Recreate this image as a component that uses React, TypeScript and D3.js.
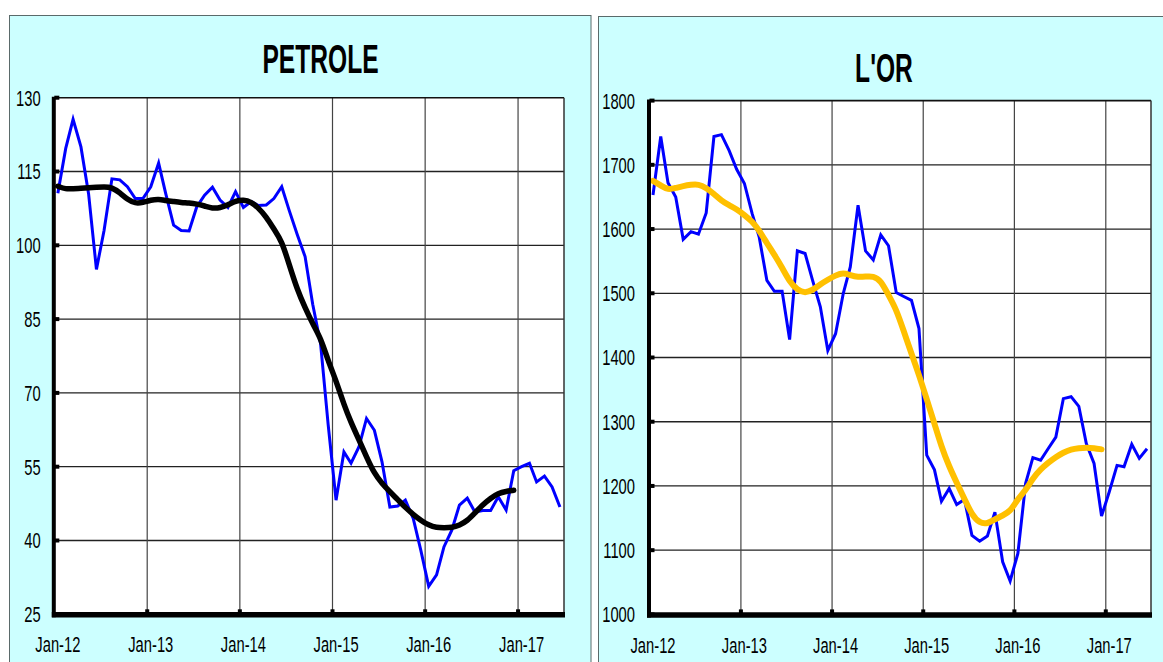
import React from 'react';
import * as d3 from 'd3';

const yearLabels = ['Jan-12', 'Jan-13', 'Jan-14', 'Jan-15', 'Jan-16', 'Jan-17'];
const oilTicks = [25, 40, 55, 70, 85, 100, 115, 130];
const goldTicks = [1000, 1100, 1200, 1300, 1400, 1500, 1600, 1700, 1800];

// Monthly values from Jan-12 to Jun-17
const oilPrice = [
  110.6, 119.7, 125.6, 120.0, 110.5, 95.1, 103.0, 113.5, 113.3, 111.9, 109.5, 109.5,
  111.9, 116.7, 110.5, 104.1, 103.0, 102.9, 107.8, 110.2, 111.8, 109.2, 107.7, 110.9,
  107.7, 108.9, 108.1, 108.2, 109.5, 111.9, 107.0, 102.2, 97.7, 88.0, 80.0, 63.5,
  48.2, 58.0, 55.7, 59.0, 64.8, 62.4, 56.0, 46.8, 47.0, 48.2, 44.5, 38.0,
  30.7, 33.0, 38.7, 42.1, 47.2, 48.6, 45.8, 46.1, 46.1, 48.9, 46.2, 54.2,
  55.0, 55.7, 51.9, 53.1, 50.9, 46.8,
];
// Smoothed trend from Jan-12 to Dec-16
const oilTrend = [
  112.0, 111.4, 111.5, 111.6, 111.7, 111.8, 111.9, 111.8, 110.7, 109.3, 108.5, 108.7,
  109.2, 109.4, 109.1, 108.9, 108.7, 108.6, 108.4, 108.0, 107.5, 107.6, 108.2, 109.0,
  109.3, 108.8, 107.6, 105.8, 103.3, 100.9, 96.0, 91.0, 87.3, 84.0, 81.2, 76.5,
  72.5, 67.6, 64.0, 60.5, 57.0, 53.6, 51.6, 49.9, 48.3, 46.7, 45.3, 44.1,
  43.1, 42.6, 42.6, 42.6, 43.1, 44.0, 45.6, 47.3, 48.6, 49.6, 50.0, 50.2,
];
const goldPrice = [
  1653, 1744, 1672, 1650, 1584, 1596, 1592, 1625, 1744, 1747, 1722, 1693,
  1671, 1624, 1588, 1520, 1503, 1503, 1428, 1566, 1562, 1520, 1479, 1411,
  1437, 1500, 1541, 1637, 1566, 1552, 1591, 1574, 1501, 1495, 1489, 1445,
  1248, 1225, 1176, 1196, 1171, 1179, 1123, 1114, 1122, 1159, 1082, 1052,
  1095, 1204, 1244, 1240, 1258, 1276, 1336, 1339, 1324, 1266, 1235, 1153,
  1191, 1232, 1230, 1265, 1243, 1258,
];
const goldTrend = [
  1675, 1668, 1661, 1664, 1667, 1669, 1670, 1664, 1655, 1644, 1637, 1631,
  1622, 1612, 1598, 1578, 1560, 1540, 1518, 1505, 1500, 1505, 1514, 1521,
  1528, 1532, 1528, 1525, 1526, 1527, 1520, 1497, 1475, 1441, 1406, 1373,
  1335, 1297, 1261, 1230, 1205, 1180, 1155, 1142, 1141, 1148, 1154, 1160,
  1180, 1193, 1212, 1226, 1236, 1245, 1252, 1257, 1259, 1260, 1259, 1257,
];

const FONT = '"Liberation Sans", Arial, sans-serif';
const START = new Date(2012, 0, 1);
const END = new Date(2017, 6, 1);
const monthDate = (i: number) => new Date(2012, i, 15);

type PanelProps = {
  box: { x: number; y: number; w: number; h: number };
  plot: { left: number; right: number; top: number; bottom: number };
  title: string;
  titleX: number;
  titleY: number;
  ticks: number[];
  values: number[];
  trend: number[];
  trendColor: string;
  trendWidth: number;
  labelGap: number;
  xLabelDy: number;
};

function Panel(p: PanelProps) {
  const { plot } = p;
  const x = d3.scaleTime().domain([START, END]).range([plot.left, plot.right]);
  const y = d3
    .scaleLinear()
    .domain([p.ticks[0], p.ticks[p.ticks.length - 1]])
    .range([plot.bottom, plot.top]);
  const line = d3
    .line<number>()
    .x((_, i) => x(monthDate(i)))
    .y((d) => y(d));
  const smooth = d3
    .line<number>()
    .x((_, i) => x(monthDate(i)))
    .y((d) => y(d))
    .curve(d3.curveBasis);
  const years = yearLabels.map((_, i) => new Date(2012 + i, 0, 1));
  return (
    <g>
      <rect x={p.box.x} y={p.box.y} width={p.box.w} height={p.box.h} fill="#CCFFFF" stroke="#5a6a6a" strokeWidth={1} />
      <text
        transform={`translate(${p.titleX},${p.titleY}) scale(0.6,1)`}
        textAnchor="middle"
        fontFamily={FONT}
        fontWeight="bold"
        fontSize={41}
        fill="#000"
      >
        {p.title}
      </text>
      <rect x={plot.left} y={plot.top} width={plot.right - plot.left} height={plot.bottom - plot.top} fill="#fff" />
      {p.ticks.slice(1, -1).map((t) => (
        <line key={'h' + t} x1={plot.left} x2={plot.right} y1={y(t)} y2={y(t)} stroke="#222" strokeWidth={1.3} />
      ))}
      {years.slice(1).map((d, i) => (
        <line key={'v' + i} x1={x(d)} x2={x(d)} y1={plot.top} y2={plot.bottom} stroke="#444" strokeWidth={1.2} />
      ))}
      <line x1={plot.left} x2={plot.right} y1={plot.top} y2={plot.top} stroke="#111" strokeWidth={1.6} />
      <line x1={plot.right} x2={plot.right} y1={plot.top} y2={plot.bottom} stroke="#333" strokeWidth={1.5} />
      <path d={line(p.values) || ''} fill="none" stroke="#0000FF" strokeWidth={3} strokeLinejoin="miter" />
      <path d={smooth(p.trend) || ''} fill="none" stroke={p.trendColor} strokeWidth={p.trendWidth} strokeLinecap="round" />
      {/* axes */}
      <line x1={plot.left - 0.5} x2={plot.left - 0.5} y1={plot.top - 1} y2={plot.bottom + 3} stroke="#000" strokeWidth={4} />
      <line x1={plot.left - 2.5} x2={plot.right + 1} y1={plot.bottom + 0.5} y2={plot.bottom + 0.5} stroke="#000" strokeWidth={5.5} />
      {p.ticks.map((t) => (
        <rect key={'yt' + t} x={plot.left} y={y(t) - 2} width={5} height={4} fill="#000" />
      ))}
      {years.slice(1).map((d, i) => (
        <rect key={'xt' + i} x={x(d) - 2} y={plot.bottom - 5} width={4} height={5} fill="#000" />
      ))}
      {p.ticks.map((t) => (
        <text
          key={'yl' + t}
          transform={`translate(${plot.left - p.labelGap},${y(t) + 7.9}) scale(0.67,1)`}
          textAnchor="end"
          fontFamily={FONT}
          fontSize={22}
          fill="#000"
        >
          {t}
        </text>
      ))}
      {yearLabels.map((lab, i) => (
        <text
          key={'xl' + lab}
          transform={`translate(${x(new Date(2012 + i, 0, 15))},${plot.bottom + p.xLabelDy}) scale(0.67,1)`}
          textAnchor="middle"
          fontFamily={FONT}
          fontSize={22}
          fill="#000"
        >
          {lab}
        </text>
      ))}
    </g>
  );
}

export default function App() {
  return (
    <svg
      width={1163}
      height={662}
      style={{ position: 'absolute', left: 0, top: 0, background: '#fff' }}
    >
      <Panel
        box={{ x: 9.5, y: 15.5, w: 581.5, h: 700 }}
        plot={{ left: 54.3, right: 564, top: 97.7, bottom: 614.3 }}
        title="PETROLE"
        titleX={320.5}
        titleY={72.7}
        ticks={oilTicks}
        values={oilPrice}
        trend={oilTrend}
        trendColor="#000"
        trendWidth={5.5}
        labelGap={13.6}
        xLabelDy={37.2}
      />
      <Panel
        box={{ x: 598.5, y: 16.5, w: 600, h: 700 }}
        plot={{ left: 649.5, right: 1151, top: 100.6, bottom: 614.4 }}
        title="L'OR"
        titleX={884}
        titleY={81.7}
        ticks={goldTicks}
        values={goldPrice}
        trend={goldTrend}
        trendColor="#FFC000"
        trendWidth={6}
        labelGap={14.5}
        xLabelDy={38.6}
      />
    </svg>
  );
}
